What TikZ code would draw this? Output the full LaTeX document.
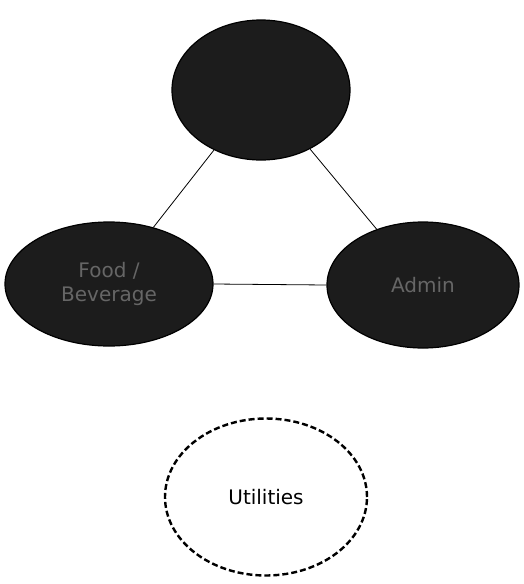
\documentclass[tikz,border=0pt]{standalone}
\usepackage{fontspec}
\setmainfont{DejaVu Sans}
\usetikzlibrary{shapes.geometric}
\definecolor{blobfill}{HTML}{1C1C1C}
\definecolor{blobtext}{HTML}{666666}
\begin{document}
\begin{tikzpicture}[x=1pt,y=-1pt,
  blob/.style={ellipse,draw=black,line width=1.2pt,fill=blobfill,text=blobtext,inner sep=0pt,align=center,font=\fontsize{20}{24}\selectfont},
  link/.style={draw=black,line width=0.8pt},
  utilbox/.style={ellipse,draw=black,line width=2.4pt,dash pattern=on 6pt off 3pt,inner sep=0pt,font=\fontsize{20}{24}\selectfont}]
\path[use as bounding box,fill=white] (0,0) rectangle (523,584);
\node[blob,minimum width=178pt,minimum height=140pt] (top) at (261,90) {};
\node[blob,minimum width=208pt,minimum height=124pt] (left) at (109,284) {Food /\\Beverage};
\node[blob,minimum width=192pt,minimum height=126pt] (right) at (423,285) {Admin};
\node[utilbox,minimum width=202pt,minimum height=157pt] (util) at (266,497) {Utilities};
\draw[link] (top) -- (left);
\draw[link] (top) -- (right);
\draw[link] (left.east) -- (right.west);
\end{tikzpicture}
\end{document}
